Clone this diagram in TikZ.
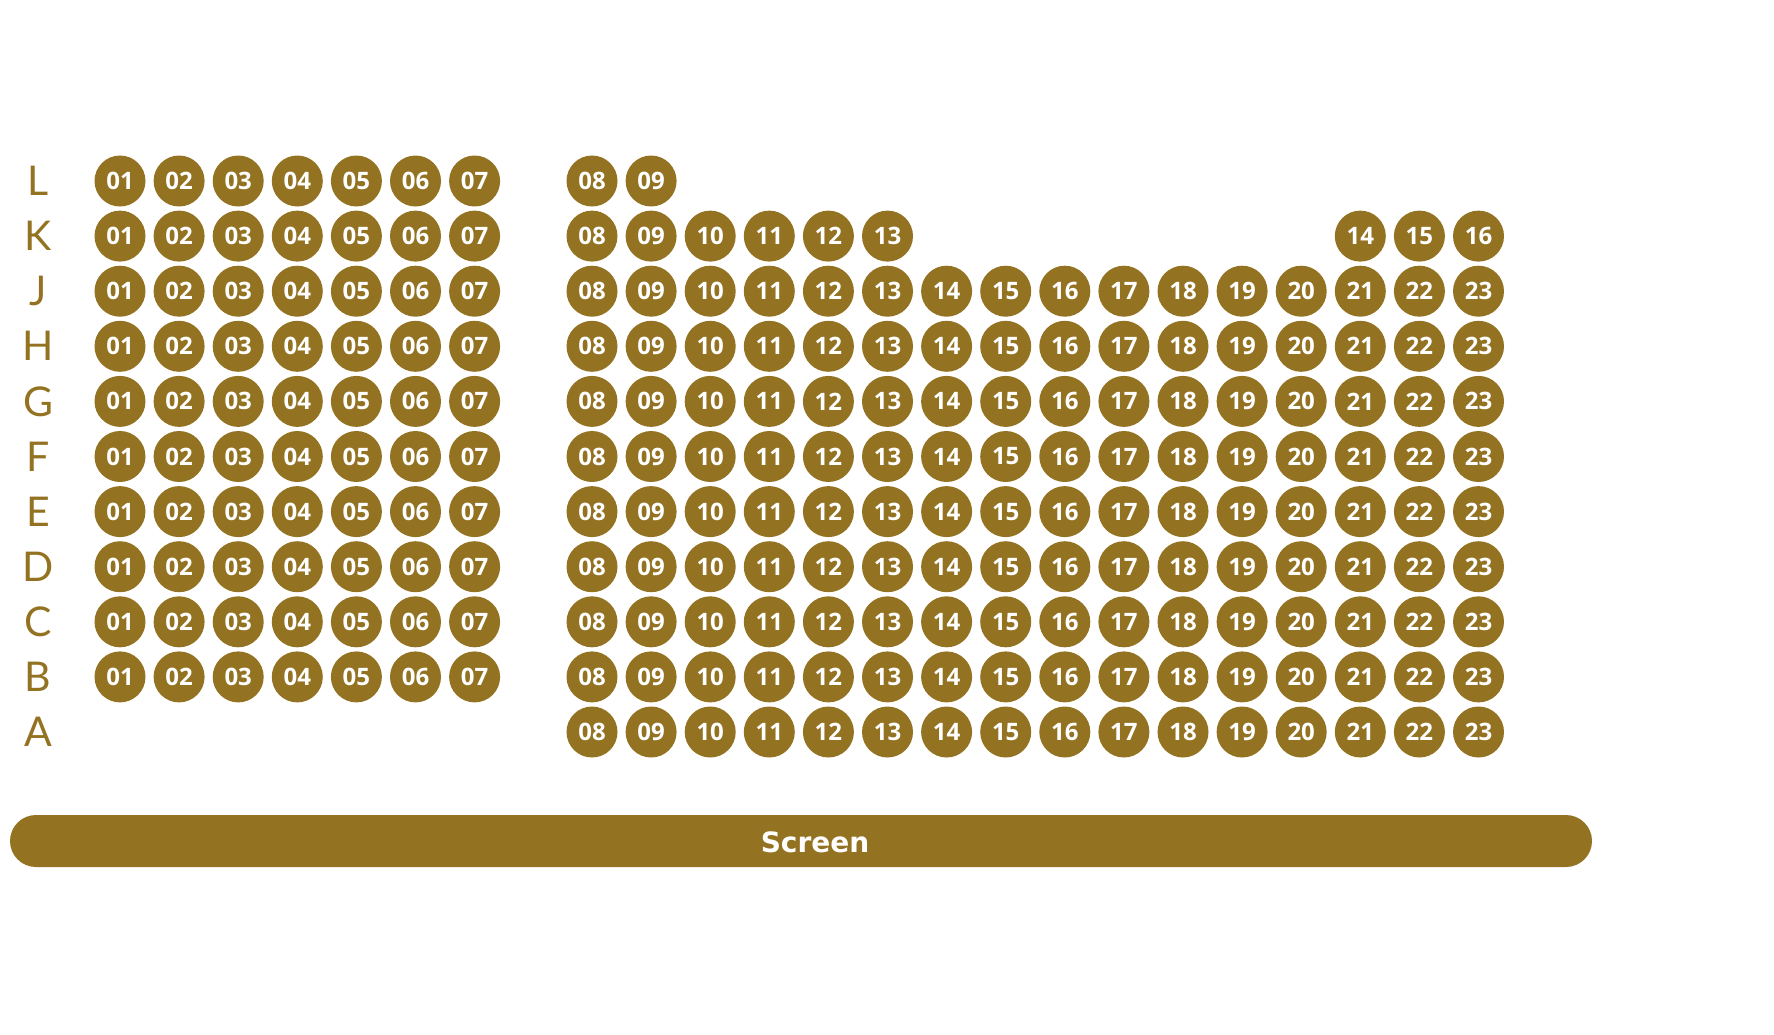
\documentclass[tikz,border=0pt]{standalone}
\usepackage{fontspec}
\setmainfont{Lato}
\newfontfamily\seatfont{Open Sans}
\newfontfamily\screenfont{DejaVu Sans}
\definecolor{gold}{HTML}{937322}
\begin{document}
\begin{tikzpicture}[x=1pt,y=-1pt,
  seat/.style={circle,fill=gold,minimum size=51pt,inner sep=0pt,text=white,
    font=\seatfont\bfseries\fontsize{24}{24}\selectfont},
  rowlabel/.style={text=gold,inner sep=0pt,font=\fontsize{41}{41}\selectfont},
  screenbar/.style={fill=gold,rounded corners=26pt,minimum width=1582pt,minimum height=52pt,inner sep=0pt},
  screentext/.style={text=white,inner sep=0pt,font=\screenfont\bfseries\fontsize{28}{28}\selectfont}]
\path[use as bounding box] (0,0) rectangle (1774,1034);
% row labels
\foreach \r/\l in {0/L,1/K,2/J,3/H,4/G,5/F,6/E,7/D,8/C,9/B,10/A}{
  \node[rowlabel] (row\l) at (38,{181+55.1*\r}) {\l};
}
% left block
\foreach \r/\l in {0/L,1/K,2/J,3/H,4/G,5/F,6/E,7/D,8/C,9/B}{
  \foreach \c [count=\i from 0] in {01,02,03,04,05,06,07}{
    \node[seat] (s\l\c) at ({120+59.1*\i},{181+55.1*\r}) {\c};
  }
}
% right block, full rows
\foreach \r/\l in {2/J,3/H,4/G,5/F,6/E,7/D,8/C,9/B,10/A}{
  \foreach \c [count=\i from 0] in {08,09,10,11,12,13,14,15,16,17,18,19,20,21,22,23}{
    \node[seat] (s\l\c) at ({592+59.1*\i},{181+55.1*\r}) {\c};
  }
}
% row L
\foreach \c [count=\i from 0] in {08,09}{
  \node[seat] (sL\c) at ({592+59.1*\i},181) {\c};
}
% row K
\foreach \c [count=\i from 0] in {08,09,10,11,12,13}{
  \node[seat] (sK\c) at ({592+59.1*\i},236.1) {\c};
}
\foreach \c [count=\i from 13] in {14,15,16}{
  \node[seat] (sK\c) at ({592+59.1*\i},236.1) {\c};
}
% screen
\node[screenbar] (screen) at (801,841) {};
\node[screentext] (screenlabel) at (815,842) {Screen};
\end{tikzpicture}
\end{document}
